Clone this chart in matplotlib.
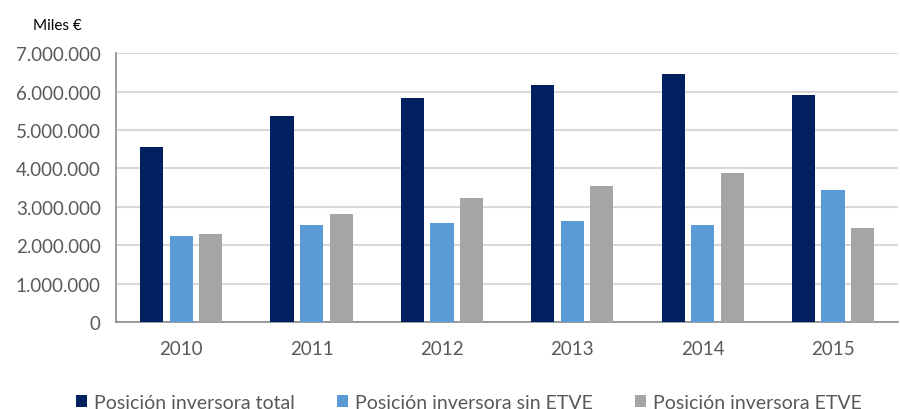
import numpy as np
import matplotlib.pyplot as plt
from matplotlib.ticker import FuncFormatter

# Datos (miles de euros)
anios = ['2010', '2011', '2012', '2013', '2014', '2015']
total = [4550000, 5360000, 5830000, 6170000, 6450000, 5920000]
sin_etve = [2240000, 2520000, 2570000, 2620000, 2530000, 3450000]
etve = [2280000, 2820000, 3230000, 3550000, 3890000, 2450000]

series = ['Posición inversora total', 'Posición inversora sin ETVE', 'Posición inversora ETVE']
colores = ['#002060', '#5B9BD5', '#A5A5A5']

plt.rcParams['font.family'] = ['Lato', 'DejaVu Sans']
gris = '#595959'

fig = plt.figure(figsize=(9, 4.1), dpi=100)
ax = fig.add_axes([0.129, 0.212, 0.869, 0.656])

x = np.arange(len(anios))
ancho = 0.177
paso = 0.227
for i, (vals, col, nom) in enumerate(zip([total, sin_etve, etve], colores, series)):
    ax.bar(x + (i - 1) * paso, vals, ancho, color=col, label=nom, zorder=3)

ax.set_xlim(-0.5, len(anios) - 0.5)
ax.set_ylim(0, 7000000)
ax.set_yticks(np.arange(0, 7000001, 1000000))
ax.yaxis.set_major_formatter(FuncFormatter(lambda v, p: f'{int(v):,}'.replace(',', '.')))
ax.set_xticks(x)
ax.set_xticklabels(anios)
ax.tick_params(axis='both', length=0, labelsize=13.5, colors=gris)
ax.tick_params(axis='x', pad=13)
ax.tick_params(axis='y', pad=11)

ax.grid(axis='y', color='#D9D9D9', linewidth=1.5, zorder=0)
for s in ['top', 'right']:
    ax.spines[s].set_visible(False)
ax.spines['left'].set_color('#8C8C8C')
ax.spines['bottom'].set_color('#8C8C8C')
ax.spines['left'].set_linewidth(1.2)
ax.spines['bottom'].set_linewidth(1.2)

fig.text(0.037, 0.937, 'Miles €', fontsize=11, color='black', va='center')

fig.legend(loc='center', bbox_to_anchor=(0.521, 0.017), ncol=3, frameon=False,
           fontsize=14, handlelength=0.55, handleheight=0.55, handletextpad=0.35,
           columnspacing=2.2, labelcolor=gris)

fig.savefig('out.png', dpi=100)
